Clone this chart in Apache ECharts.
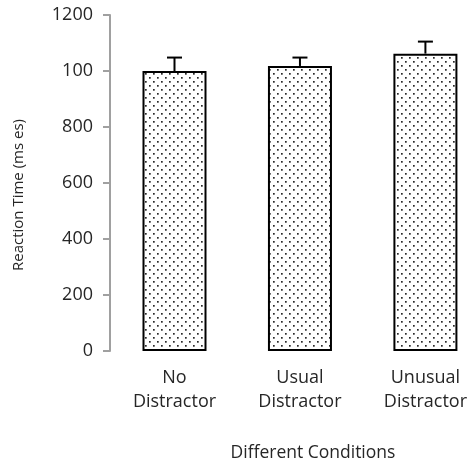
<!DOCTYPE html>
<html>
<head>
<meta charset="utf-8">
<script src="https://cdn.jsdelivr.net/npm/echarts@6/dist/echarts.min.js"></script>
<style>html,body{margin:0;padding:0;background:#fff}#c{width:470px;height:467px}</style>
</head>
<body>
<div id="c"></div>
<script>
var categories = ['No\nDistractor', 'Usual\nDistractor', 'Unusual\nDistractor'];
var meanValues = [1000, 1018, 1062];
var errorValues = [48, 30, 43];
var tickValues = [0, 200, 400, 600, 800, 1000, 1200];
var tickLabels = ['0', '200', '400', '600', '800', '100', '1200'];

var pat = document.createElement('canvas');
pat.width = 8; pat.height = 8;
var g = pat.getContext('2d');
g.fillStyle = '#fff'; g.fillRect(0, 0, 8, 8);
g.fillStyle = '#2a2a2a';
g.fillRect(1, 1, 1.7, 1.7);
g.fillRect(5, 5, 1.7, 1.7);

var chart = echarts.init(document.getElementById('c'));
var font = '"Open Sans", sans-serif';
var txt = '#262626';
chart.setOption({
  animation: false,
  grid: { left: 174.5, top: 15, right: 42, height: 340 },
  xAxis: {
    type: 'category',
    data: categories,
    boundaryGap: false,
    name: 'Different Conditions',
    nameLocation: 'middle',
    nameGap: 93,
    nameTextStyle: { fontFamily: font, fontSize: 17.5, color: txt, padding: [0, 0, 0, 26] },
    axisLine: { show: false },
    axisTick: { show: false },
    axisLabel: { fontFamily: font, fontSize: 18, color: txt, lineHeight: 24, margin: 15, interval: 0 }
  },
  yAxis: {
    type: 'value',
    min: 0, max: 1200, interval: 200,
    offset: 64.5,
    name: 'Reaction Time (ms es)',
    nameLocation: 'middle',
    nameGap: 84,
    nameTextStyle: { fontFamily: font, fontSize: 15, color: txt, padding: [0, 24, 0, 0] },
    axisLine: { show: true, lineStyle: { color: '#a0a0a0', width: 2 } },
    axisTick: { show: true, length: 7, lineStyle: { color: '#a0a0a0', width: 2 } },
    splitLine: { show: false },
    axisLabel: {
      fontFamily: font, fontSize: 18, color: txt, margin: 17, padding: [8, 0, 0, 0],
      formatter: function (v) { var i = tickValues.indexOf(v); return i >= 0 ? tickLabels[i] : ''; }
    }
  },
  series: [
    {
      type: 'bar',
      data: meanValues,
      barWidth: 64,
      clip: false,
      itemStyle: { color: { image: pat, repeat: 'repeat' }, borderColor: '#000', borderWidth: 2 }
    },
    {
      type: 'custom',
      data: meanValues.map(function (v, i) { return [i, v, v + errorValues[i]]; }),
      z: 5,
      clip: false,
      renderItem: function (params, api) {
        var p0 = api.coord([api.value(0), api.value(1)]);
        var p1 = api.coord([api.value(0), api.value(2)]);
        var hw = 7.5;
        return {
          type: 'group',
          children: [
            { type: 'line', shape: { x1: p0[0], y1: p0[1], x2: p1[0], y2: p1[1] }, style: { stroke: '#000', lineWidth: 2 } },
            { type: 'line', shape: { x1: p1[0] - hw, y1: p1[1], x2: p1[0] + hw, y2: p1[1] }, style: { stroke: '#000', lineWidth: 2 } }
          ]
        };
      }
    }
  ]
});
</script>
</body>
</html>
